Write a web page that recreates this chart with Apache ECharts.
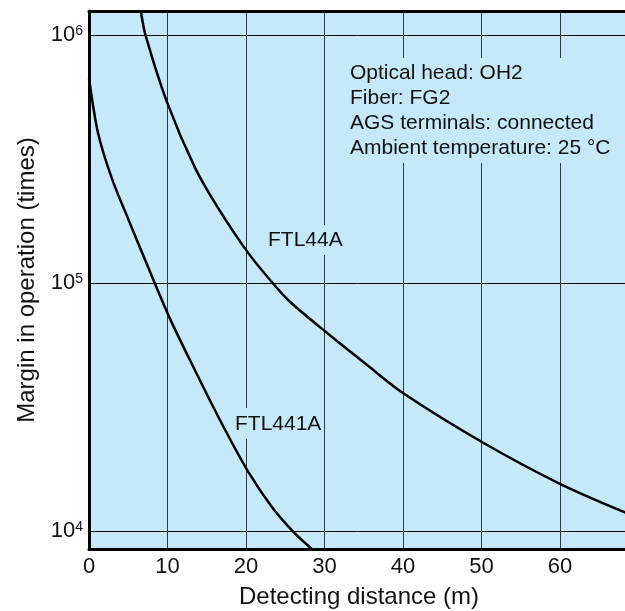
<!DOCTYPE html>
<html lang="en">
  <head>
    <meta charset="utf-8" />
    <title>Margin in operation vs detecting distance</title>
    <style>
      html,
      body,
      #container {
        margin: 0;
        height: 100%;
        width: 100%;
        background: #fff;
      }
    </style>
  </head>

  <body>
    <div id="container"></div>
    <script src="https://cdn.jsdelivr.net/npm/echarts@6/dist/echarts.min.js"></script>
    <script>
      // 曲线数据 (距离 m, 余量 倍)
      const ftl44aDist = [6.6, 7.2, 10, 13.5, 16.4, 20.3, 23.4, 25.6, 30.3, 35.4, 40, 50, 60, 68.8]
      const ftl44aMargin = [1250000, 1000000, 530000, 292000, 202000, 132000, 100000, 84000, 63000, 46800, 36000, 22900, 15500, 11700]

      const ftl441aDist = [0, 1.15, 2.9, 5, 7.1, 10.3, 13.5, 16.9, 20.3, 23.3, 26.2, 28.4]
      const ftl441aMargin = [671000, 403000, 265000, 181000, 125000, 72000, 44500, 27200, 17300, 12500, 9800, 8460]

      const seriesNames = ['FTL44A', 'FTL441A']
      const noteLines = ['Optical head: OH2', 'Fiber: FG2', 'AGS terminals: connected', 'Ambient temperature: 25 °C']

      const font = "'Liberation Sans', Arial, Helvetica, sans-serif"
      const bg = '#c6e9f9'
      const xMin = 0
      const xMax = 68.8

      function pairs(xs, ys) {
        return xs.map(function (x, i) {
          return [x, ys[i]]
        })
      }

      let chart = echarts.init(document.getElementById('container'))
      let option = {
        animation: false,
        textStyle: { fontFamily: font },
        grid: {
          left: 89,
          top: 11,
          right: -4,
          bottom: 62,
          outerBoundsMode: 'none',
          show: true,
          backgroundColor: bg,
          borderWidth: 0,
        },
        xAxis: [
          {
            type: 'value',
            min: xMin,
            max: xMax,
            interval: 10,
            name: 'Detecting distance (m)',
            nameLocation: 'middle',
            nameGap: 36,
            nameTextStyle: { fontSize: 24, color: '#111', fontFamily: font },
            axisLine: { show: true, lineStyle: { color: '#000', width: 3 } },
            axisTick: { show: false },
            axisLabel: {
              fontSize: 22,
              color: '#111',
              margin: 7,
              showMaxLabel: false,
              formatter: function (v) {
                return v % 10 === 0 ? String(v) : ''
              },
            },
            splitLine: { lineStyle: { color: '#2a3a44', width: 1 } },
          },
          {
            // 上边框
            type: 'value',
            position: 'top',
            min: xMin,
            max: xMax,
            axisLine: { show: true, lineStyle: { color: '#000', width: 3 } },
            axisTick: { show: false },
            axisLabel: { show: false },
            splitLine: { show: false },
          },
        ],
        yAxis: {
          type: 'log',
          logBase: 10,
          min: 8460,
          max: 1250000,
          name: 'Margin in operation (times)',
          nameLocation: 'middle',
          nameGap: 48,
          nameTextStyle: { fontSize: 24, color: '#111', fontFamily: font },
          axisLine: { show: true, lineStyle: { color: '#000', width: 3 } },
          axisTick: { show: false },
          axisLabel: {
            margin: 6,
            color: '#111',
            formatter: function (v) {
              let e = Math.round(Math.log10(v))
              if (Math.abs(Math.log10(v) - e) > 1e-6) return ''
              return '{b|10}{s|' + e + '}'
            },
            rich: {
              b: { fontSize: 22, color: '#111', fontFamily: font },
              s: { fontSize: 14, color: '#111', fontFamily: font, verticalAlign: 'top' },
            },
          },
          splitLine: { lineStyle: { color: '#000', width: 1 } },
        },
        graphic: [
          {
            type: 'text',
            z: 1,
            x: 346,
            y: 58,
            style: {
              text: noteLines.join('\n'),
              font: '21px ' + font,
              fill: '#111',
              lineHeight: 25,
              backgroundColor: bg,
              padding: [3, 4, 2, 4],
            },
          },
          {
            type: 'text',
            z: 1,
            x: 266,
            y: 225,
            style: {
              text: seriesNames[0],
              font: '21px ' + font,
              fill: '#111',
              lineHeight: 21,
              backgroundColor: bg,
              padding: [5, 2, 4, 2],
            },
          },
          {
            type: 'text',
            z: 1,
            x: 233,
            y: 408,
            style: {
              text: seriesNames[1],
              font: '21px ' + font,
              fill: '#111',
              lineHeight: 21,
              backgroundColor: bg,
              padding: [6, 2, 4, 2],
            },
          },
        ],
        series: [
          {
            name: seriesNames[0],
            type: 'line',
            data: pairs(ftl44aDist, ftl44aMargin),
            smooth: 0.3,
            showSymbol: false,
            clip: true,
            lineStyle: { color: '#000', width: 2.5 },
            z: 3,
          },
          {
            name: seriesNames[1],
            type: 'line',
            data: pairs(ftl441aDist, ftl441aMargin),
            smooth: 0.3,
            showSymbol: false,
            clip: true,
            lineStyle: { color: '#000', width: 2.5 },
            z: 3,
          },
        ],
      }
      chart.setOption(option)
    </script>
  </body>
</html>
